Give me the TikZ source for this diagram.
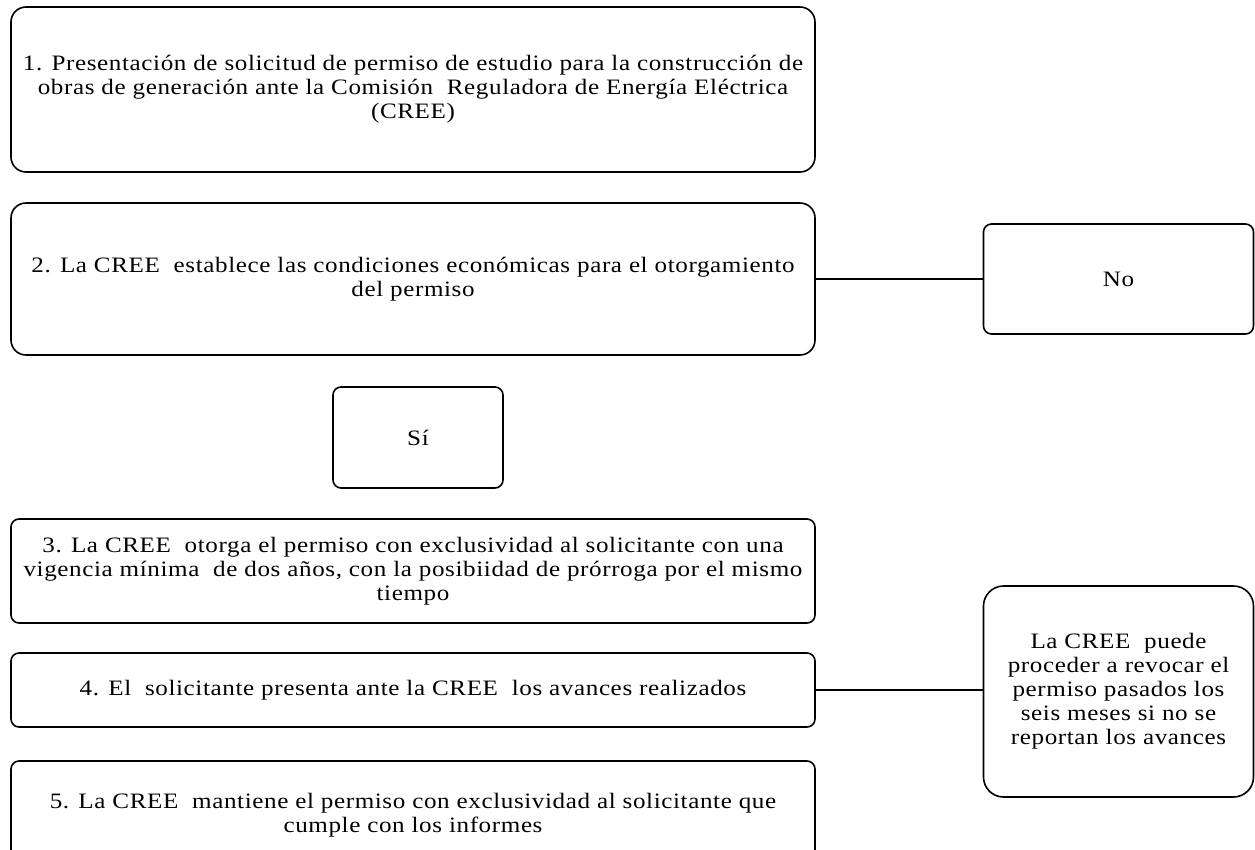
\documentclass[tikz,border=0pt]{standalone}
\usepackage{fontspec}
\setmainfont{Liberation Serif}
\newfontfamily\boxfont{Liberation Serif}[FakeStretch=1.14,LetterSpace=2.8]
\begin{document}
\begin{tikzpicture}[x=1pt,y=-1pt,
  box/.style={draw, line width=1.6pt, inner sep=0pt, align=center,
    font=\boxfont\fontsize{22}{24}\selectfont, rounded corners=#1},
  box/.default=8pt,
  conn/.style={line width=1.6pt}]
\useasboundingbox (0,0) rectangle (1255,849);
\node[box=15pt, minimum width=804pt, minimum height=165pt] (b1) at (413,89.5)
  {1. Presentación de solicitud de permiso de estudio para la construcción de\\
   obras de generación ante la Comisión~ Reguladora de Energía Eléctrica\\
   (CREE)};
\node[box=15pt, minimum width=804pt, minimum height=152pt] (b2) at (413,279)
  {2. La CREE~ establece las condiciones económicas para el otorgamiento\\
   del permiso};
\node[box, minimum width=270pt, minimum height=110pt] (no) at (1118.5,279) {No};
\node[box, minimum width=170pt, minimum height=101pt] (si) at (418,437.5) {Sí};
\node[box, minimum width=804pt, minimum height=104pt] (b3) at (413,571)
  {3. La CREE~ otorga el permiso con exclusividad al solicitante con una\\
   vigencia mínima~ de dos años, con la posibiidad de prórroga por el mismo\\
   tiempo};
\node[box, minimum width=804pt, minimum height=74pt] (b4) at (413,690)
  {4. El~ solicitante presenta ante la CREE~ los avances realizados};
\node[box, minimum width=804pt, minimum height=109pt] (b5) at (413,815.5)
  {5. La CREE~ mantiene el permiso con exclusividad al solicitante que\\
   cumple con los informes};
\node[box=20pt, minimum width=270pt, minimum height=211pt] (rev) at (1118.5,691.5)
  {La CREE~ puede\\ proceder a revocar el\\ permiso pasados los\\ seis meses si no se\\ reportan los avances};
\draw[conn] (b2.east) -- (no.west);
\draw[conn] (b4.east) -- (b4.east -| rev.west);
\end{tikzpicture}
\end{document}
